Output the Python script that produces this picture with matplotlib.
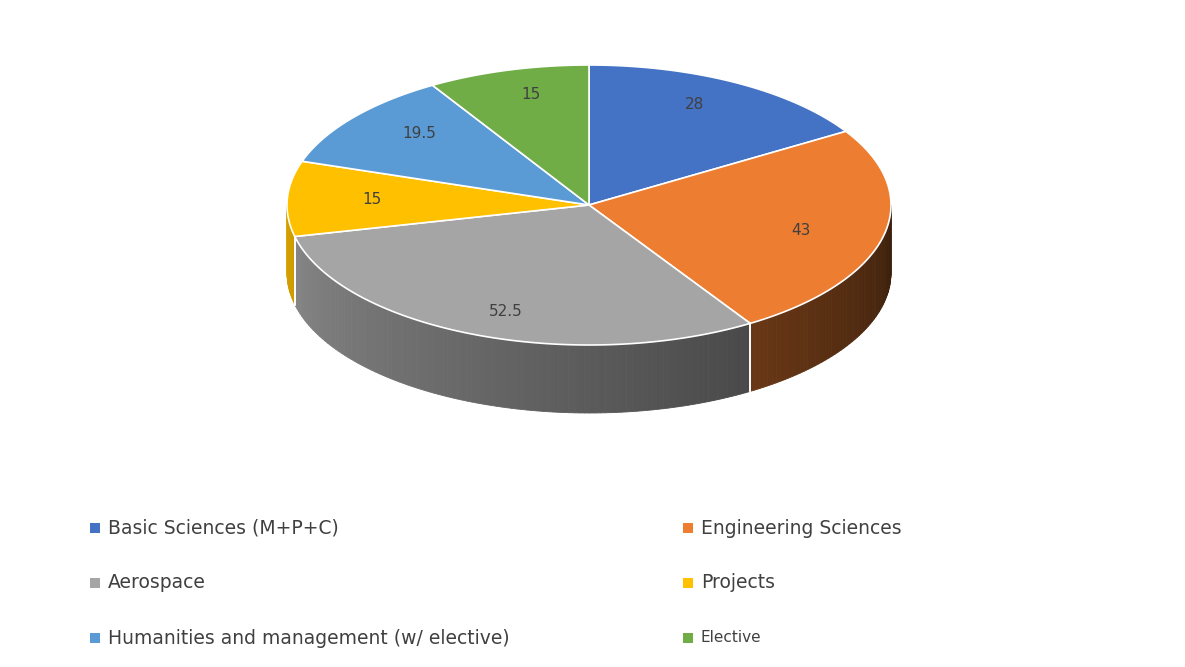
import numpy as np
import matplotlib.pyplot as plt
from matplotlib.patches import Polygon, Rectangle
from matplotlib.colors import to_rgb

categories = ["Basic Sciences (M+P+C)", "Engineering Sciences", "Aerospace",
              "Projects", "Humanities and management (w/ elective)", "Elective"]
values = [28, 43, 52.5, 15, 19.5, 15]
value_labels = ["28", "43", "52.5", "15", "19.5", "15"]
colors = ["#4472C4", "#ED7D31", "#A5A5A5", "#FFC000", "#5B9BD5", "#70AD47"]

W, H = 1185, 667
fig = plt.figure(figsize=(W / 100, H / 100), dpi=100)
ax = fig.add_axes([0, 0, 1, 1])
ax.set_xlim(0, W)
ax.set_ylim(H, 0)
ax.axis("off")

cx, cy, rx, ry, depth = 589, 205, 302, 140, 68


def pt(t, dy=0.0):
    r = np.radians(t)
    return cx + rx * np.cos(r), cy - ry * np.sin(r) + dy


total = sum(values)
angles = []
start = 90.0
for v in values:
    sweep = v / total * 360
    angles.append((start - sweep, start))
    start -= sweep

# side walls (front half, math angles 180..360)
for (a0, a1), c in zip(angles, colors):
    base = np.array(to_rgb(c))
    for lo, hi in [(a0, a1), (a0 + 360, a1 + 360)]:
        s, e = max(lo, 180), min(hi, 360)
        if e <= s:
            continue
        ts = np.linspace(s, e, max(2, int(e - s) + 1))
        for t0, t1 in zip(ts[:-1], ts[1:]):
            f = 0.85 - 0.6 * ((t0 + t1) / 2 - 180) / 180
            col = np.clip(base * f, 0, 1)
            p = [pt(t0), pt(t1), pt(t1, depth), pt(t0, depth)]
            ax.add_patch(Polygon(p, closed=True, fc=col, ec=col, lw=0.6))
        # white edges at slice boundaries on side
        for t in (s, e):
            if 180 < t < 360:
                x0, y0 = pt(t)
                ax.plot([x0, x0], [y0, y0 + depth], color="white", lw=1.2)

# top faces
for (a0, a1), c, lab in zip(angles, colors, value_labels):
    ts = np.linspace(a0, a1, 200)
    p = [(cx, cy)] + [pt(t) for t in ts]
    ax.add_patch(Polygon(p, closed=True, fc=c, ec="white", lw=1.2))
    m = (a0 + a1) / 2
    r = np.radians(m)
    ax.text(cx + 0.72 * rx * np.cos(r), cy - 0.82 * ry * np.sin(r), lab,
            ha="center", va="center", fontsize=11, color="#404040")

# legend
leg_pos = [(90, 528), (683, 528), (90, 583), (683, 583), (90, 638), (683, 638)]
leg_size = [13.5, 13.5, 13.5, 13.5, 13.5, 11]
for (x, y), name, c, fs in zip(leg_pos, categories, colors, leg_size):
    ax.add_patch(Rectangle((x, y - 5), 10, 10, fc=c, ec="none"))
    ax.text(x + 18, y, name, ha="left", va="center", fontsize=fs, color="#404040")

fig.savefig("out.png", dpi=100)
